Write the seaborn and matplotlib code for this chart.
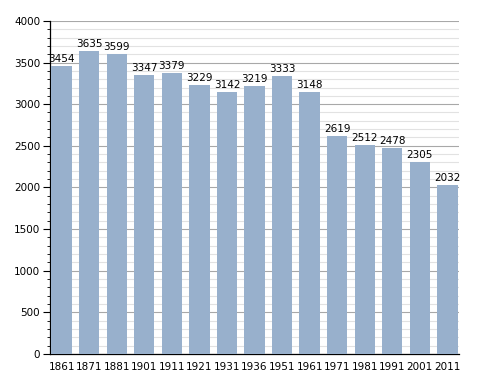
import matplotlib
matplotlib.use('Agg')
import matplotlib.pyplot as plt
import seaborn as sns
import pandas as pd
from matplotlib.ticker import MultipleLocator

years = ['1861', '1871', '1881', '1901', '1911', '1921', '1931', '1936',
         '1951', '1961', '1971', '1981', '1991', '2001', '2011']
population = [3454, 3635, 3599, 3347, 3379, 3229, 3142, 3219,
              3333, 3148, 2619, 2512, 2478, 2305, 2032]

df = pd.DataFrame({'year': years, 'pop': population})

sns.set_style('white')
plt.rcParams['font.family'] = ['DejaVu Sans']

fig = plt.figure(figsize=(4.88, 3.73), dpi=100)
ax = fig.add_axes([0.1025, 0.051, 0.838, 0.893])

sns.barplot(data=df, x='year', y='pop', color='#98b0cc', width=0.74,
            saturation=1, linewidth=0, ax=ax, zorder=3)

for i, v in enumerate(population):
    ax.text(i, v + 25, str(v), ha='center', va='bottom', fontsize=7.5,
            color='black', zorder=4)

ax.set_ylim(0, 4000)
ax.set_xlim(-0.42, len(years) - 0.58)
ax.yaxis.set_major_locator(MultipleLocator(500))
ax.yaxis.set_minor_locator(MultipleLocator(100))
ax.grid(axis='y', which='major', color='#a8a8a8', linewidth=0.8, zorder=0)
ax.grid(axis='y', which='minor', color='#e2e2e2', linewidth=0.8, zorder=0)
ax.set_axisbelow(True)

ax.set_xlabel('')
ax.set_ylabel('')
for s in ['top', 'right']:
    ax.spines[s].set_visible(False)
ax.spines['left'].set_color('black')
ax.spines['bottom'].set_color('black')
ax.spines['left'].set_linewidth(0.9)
ax.spines['bottom'].set_linewidth(0.9)
ax.tick_params(axis='y', which='major', left=True, length=5, width=0.8,
               labelsize=7.5, pad=2, colors='black')
ax.tick_params(axis='y', which='minor', left=True, length=2.5, width=0.6,
               colors='black')
ax.tick_params(axis='x', bottom=False, labelsize=7.5, pad=2, colors='black')

fig.savefig('out.png', dpi=100)
